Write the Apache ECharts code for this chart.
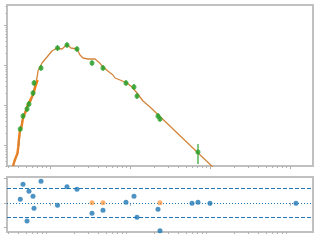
<!DOCTYPE html>
<html><head><meta charset="utf-8">
<script src="https://cdn.jsdelivr.net/npm/echarts@6/dist/echarts.min.js"></script>
<style>html,body{margin:0;padding:0;background:#fff}#c{width:320px;height:240px}</style>
</head><body><div id="c"></div>
<script>
// observed photometry
const obsWave = [0.425,0.460,0.516,0.546,0.613,0.631,0.772,1.241,1.631,2.175,3.35,4.597,8.913,11.22,12.24,22.39,23.71,70.8];
const obsFlux = [2.512,5.309,7.943,10.59,19.95,35.48,84.14,266.1,316.2,251.2,112.2,84.14,35.48,28.18,16.79,5.309,4.467,0.668];
const obsLo   = [2.13,4.50,6.73,8.97,16.9,30.1,71.3,225,268,213,95.1,71.3,30.1,23.9,14.2,4.50,3.79,0.335];
const obsHi   = [2.96,6.26,9.37,12.5,23.5,41.9,99.3,314,373,296,132,99.3,41.9,33.3,19.8,6.26,5.27,1.059];
// model SED
const modelWave = [0.345,0.365,0.387,0.398,0.404,0.410,0.422,0.434,0.447,0.460,0.473,0.487,0.516,0.531,0.546,0.579,0.596,0.613,0.649,0.688,0.708,0.75,0.794,0.917,1.059,1.223,1.413,1.631,1.83,2.175,2.371,2.585,2.985,3.652,4.217,4.597,5.623,6.131,6.494,7.499,9.173,10.59,12.24,14.54,17.78,237];
const modelFlux = [0.2985,0.422,0.562,0.668,1.334,0.944,2.371,2.661,3.758,5.01,4.732,6.683,8.913,8.414,11.22,12.59,14.96,19.95,31.62,47.32,70.79,89.13,112.2,158.5,223.9,266.1,251.2,325.4,266.1,251.2,177.8,149.6,141.3,141.3,110.3,89.13,64.2,56.23,47.32,42.17,35.48,28.18,19.95,12.59,8.913,0.0631];
// high-resolution optical spectrum of the model
const specWave = [0.345,0.36,0.375,0.39,0.40,0.41,0.42,0.44,0.46,0.48,0.50,0.52,0.55,0.58,0.62,0.66,0.70];
const specFlux = [0.2985,0.398,0.50,0.596,0.841,1.496,2.239,2.818,4.732,5.957,7.079,9.44,11.89,13.34,18.84,29.85,42.17];
// residuals
const residWave = [0.425,0.460,0.516,0.546,0.613,0.631,0.772,1.241,1.631,2.175,3.35,4.597,8.913,11.22,12.24,22.39,23.71,70.8,59.6,100,1189];
const residVal  = [0.72,3.83,-3.76,2.38,1.35,-1.14,4.45,-0.52,3.33,2.79,-2.17,-1.55,0.10,1.35,-3.0,-1.35,-5.78,0.1,-0.1,-0.1,-0.1];
const limWave  = [3.35,4.597,23.71];
const limResid = [0,0,0];
// ticks
const xMajorTicks = [1,10,100,1000];
const xMinorTicks = [0.3,0.4,0.5,0.6,0.7,0.8,0.9,2,3,4,5,6,7,8,9,20,30,40,50,60,70,80,90,200,300,400,500,600,700,800,900];
const yMajorTicks = [1,10,100,1000];
const yMinorTicks = [0.3,0.4,0.5,0.6,0.7,0.8,0.9,2,3,4,5,6,7,8,9,20,30,40,50,60,70,80,90,200,300,400,500,600,700,800,900,2000,3000];
const residTicks = [-5,0,5];
const sigmaLines = [3,-3];

const X_MIN = 0.29, X_MAX = 1940, Y_MIN = 0.2985, Y_MAX = 3162, R_MIN = -6.05, R_MAX = 5.34;
const frame = '#c0c0c0', tickCol = '#b0b0b0';

function xAx(grid, ticks, len) {
  return {type:'log', gridIndex:grid, min:X_MIN, max:X_MAX, position:'bottom',
    axisLine:{show:false}, splitLine:{show:false}, axisLabel:{show:false},
    axisTick:{show:true, inside:false, length:len, customValues:ticks, lineStyle:{color:tickCol,width:1}}};
}
function yAxLog(ticks, len) {
  return {type:'log', gridIndex:0, min:Y_MIN, max:Y_MAX, position:'left',
    axisLine:{show:false}, splitLine:{show:false}, axisLabel:{show:false},
    axisTick:{show:true, inside:false, length:len, customValues:ticks, lineStyle:{color:tickCol,width:1}}};
}

const chart = echarts.init(document.getElementById('c'), null, {renderer:'canvas'});
chart.setOption({
  animation:false,
  grid:[
    {left:7, top:5, width:306, height:161, show:true, borderColor:frame, borderWidth:2, backgroundColor:'transparent'},
    {left:7, top:177, width:306, height:55, show:true, borderColor:frame, borderWidth:2, backgroundColor:'transparent'}
  ],
  xAxis:[ xAx(0,xMajorTicks,3), xAx(0,xMinorTicks,2), xAx(1,xMajorTicks,3), xAx(1,xMinorTicks,2) ],
  yAxis:[ yAxLog(yMajorTicks,3), yAxLog(yMinorTicks,1.5),
    {type:'value', gridIndex:1, min:R_MIN, max:R_MAX, axisLine:{show:false}, splitLine:{show:false}, axisLabel:{show:false},
     axisTick:{show:true, inside:false, length:3, customValues:residTicks, lineStyle:{color:tickCol}}} ],
  series:[
    {type:'line', xAxisIndex:0, yAxisIndex:0, data:specWave.map((w,i)=>[w,specFlux[i]]),
     showSymbol:false, symbol:'none', lineStyle:{color:'#ff7f0e', width:2.4}, clip:true, z:1},
    {type:'line', xAxisIndex:0, yAxisIndex:0, data:modelWave.map((w,i)=>[w,modelFlux[i]]),
     showSymbol:false, symbol:'none', lineStyle:{color:'#d4843a', width:1.3}, clip:true, z:2},
    {type:'custom', xAxisIndex:0, yAxisIndex:0, z:3, clip:true,
     data:obsWave.map((w,i)=>[w,obsLo[i],obsHi[i]]),
     encode:{x:0, y:[1,2]},
     renderItem:(params,api)=>{
       const p1 = api.coord([api.value(0), api.value(1)]);
       const p2 = api.coord([api.value(0), api.value(2)]);
       return {type:'line', shape:{x1:p1[0],y1:p1[1],x2:p2[0],y2:p2[1]}, style:{stroke:'#2ca02c', lineWidth:1.2}};
     }},
    {type:'scatter', xAxisIndex:0, yAxisIndex:0, data:obsWave.map((w,i)=>[w,obsFlux[i]]),
     symbolSize:5, itemStyle:{color:'#2ca02c'}, z:4},
    {type:'scatter', xAxisIndex:2, yAxisIndex:2, data:residWave.map((w,i)=>[w,residVal[i]]),
     symbolSize:5, itemStyle:{color:'#1f77b4'}, z:4,
     markLine:{silent:true, symbol:'none', label:{show:false}, animation:false,
       data:[
         ...sigmaLines.map(v=>({yAxis:v, lineStyle:{type:[4,2], color:'#1f77b4', width:1}})),
         {yAxis:0, lineStyle:{type:[1,2], color:'#1f77b4', width:1}}
       ]}},
    {type:'scatter', xAxisIndex:2, yAxisIndex:2, data:limWave.map((w,i)=>[w,limResid[i]]),
     symbolSize:5, itemStyle:{color:'#ff7f0e', opacity:0.6}, z:5}
  ]
});
</script></body></html>
